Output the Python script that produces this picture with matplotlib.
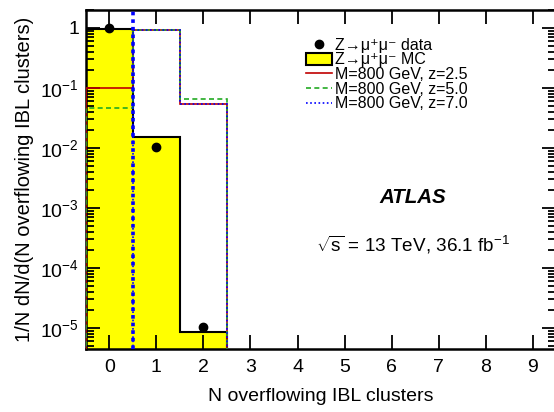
import numpy as np
import matplotlib
matplotlib.use("Agg")
import matplotlib.pyplot as plt
from matplotlib.lines import Line2D
from matplotlib.patches import Patch
from matplotlib.ticker import LogLocator, NullFormatter, FixedLocator

plt.rcParams["font.family"] = ["Liberation Sans", "DejaVu Sans"]
plt.rcParams["mathtext.fontset"] = "custom"
plt.rcParams["mathtext.rm"] = "Liberation Sans"
plt.rcParams["mathtext.it"] = "Liberation Sans:italic"
plt.rcParams["mathtext.bf"] = "Liberation Sans:bold"

# N overflowing IBL clusters, bins 0..9
n_clusters = np.arange(10)
mc_zmumu = [0.97, 0.0155, 8.7e-6, 0, 0, 0, 0, 0, 0, 0]
data_x = [0, 1, 2]
data_zmumu = [0.98, 0.0105, 1.05e-5]
sig_z25 = [0.10, 0.93, 0.054, 0, 0, 0, 0, 0, 0, 0]
sig_z50 = [0.047, 0.93, 0.066, 0, 0, 0, 0, 0, 0, 0]
sig_z70 = [0.0, 0.93, 0.054, 0, 0, 0, 0, 0, 0, 0]
cut_value = 0.5

YMIN, YMAX = 4.5e-6, 2.0
FLOOR = 1e-8

edges = np.arange(-0.5, 10.0, 1.0)


def floor(vals):
    return np.clip(np.asarray(vals, dtype=float), FLOOR, None)


fig = plt.figure(figsize=(5.54, 4.12), dpi=100)
ax = fig.add_axes([0.155, 0.153, 0.849, 0.823])
ax.set_yscale("log")

ax.stairs(floor(mc_zmumu), edges, baseline=FLOOR, fill=True,
          facecolor="#ffff00", edgecolor="none", zorder=1)
ax.stairs(floor(mc_zmumu), edges, baseline=FLOOR, color="black", lw=1.5, zorder=2)
ax.stairs(floor(sig_z25), edges, baseline=FLOOR, color="#c00000", lw=1.2, zorder=3)
ax.stairs(floor(sig_z50), edges, baseline=FLOOR, color="#22aa22", lw=1.2,
          linestyle=(0, (3, 2)), zorder=4)
ax.stairs(floor(sig_z70), edges, baseline=FLOOR, color="#0000ff", lw=1.2,
          linestyle=(0, (1, 1.5)), zorder=5)
ax.axvline(cut_value, color="#0000ff", lw=2.6, linestyle=(0, (1, 1.1)), zorder=6)
ax.plot(data_x, data_zmumu, "o", color="black", ms=6, zorder=7)

ax.set_xlim(-0.5, 9.5)

ax.xaxis.set_major_locator(FixedLocator(n_clusters))
ax.set_yticks([1e-5, 1e-4, 1e-3, 1e-2, 1e-1, 1])
ax.set_yticklabels(["10$^{-5}$", "10$^{-4}$", "10$^{-3}$", "10$^{-2}$", "10$^{-1}$", "1"])
ax.yaxis.set_minor_locator(LogLocator(base=10, subs=np.arange(2, 10), numticks=20))
ax.yaxis.set_minor_formatter(NullFormatter())
ax.set_ylim(YMIN, YMAX)

ax.tick_params(axis="both", which="both", direction="in", top=True, right=True,
               labelsize=14, width=1.3)
ax.tick_params(axis="both", which="major", length=10)
ax.tick_params(axis="y", which="minor", length=6)
ax.tick_params(axis="x", pad=7)
ax.tick_params(axis="y", pad=5)
for sp in ax.spines.values():
    sp.set_linewidth(1.8)

ax.set_xlabel("N overflowing IBL clusters", fontsize=14, labelpad=9)
ax.set_ylabel("1/N dN/d(N overflowing IBL clusters)", fontsize=14.5, labelpad=4)

handles = [
    Line2D([], [], marker="o", color="black", ls="none", ms=6),
    Patch(facecolor="#ffff00", edgecolor="black", lw=1.5),
    Line2D([], [], color="#c00000", lw=1.2),
    Line2D([], [], color="#22aa22", lw=1.2, linestyle=(0, (3, 2))),
    Line2D([], [], color="#0000ff", lw=1.2, linestyle=(0, (1, 1.5))),
]
labels = [
    "Z\u2192\u03bc\u207a\u03bc\u207b data",
    "Z\u2192\u03bc\u207a\u03bc\u207b MC",
    "M=800 GeV, z=2.5",
    "M=800 GeV, z=5.0",
    "M=800 GeV, z=7.0",
]
ax.legend(handles, labels, loc="upper left", bbox_to_anchor=(0.468, 0.918),
          frameon=False, fontsize=11.5, handlelength=1.6, handleheight=0.8,
          handletextpad=0.2, labelspacing=-0.02, borderaxespad=0, borderpad=0)

ax.text(0.694, 0.448, "ATLAS", transform=ax.transAxes, fontsize=14.8,
        fontweight="bold", fontstyle="italic", ha="center", va="center")
ax.text(0.489, 0.307, r"$\sqrt{\mathrm{s}}$ = 13 TeV, 36.1 fb$^{-1}$", transform=ax.transAxes,
        fontsize=13.6, ha="left", va="center")

fig.savefig("out.png", dpi=100)
